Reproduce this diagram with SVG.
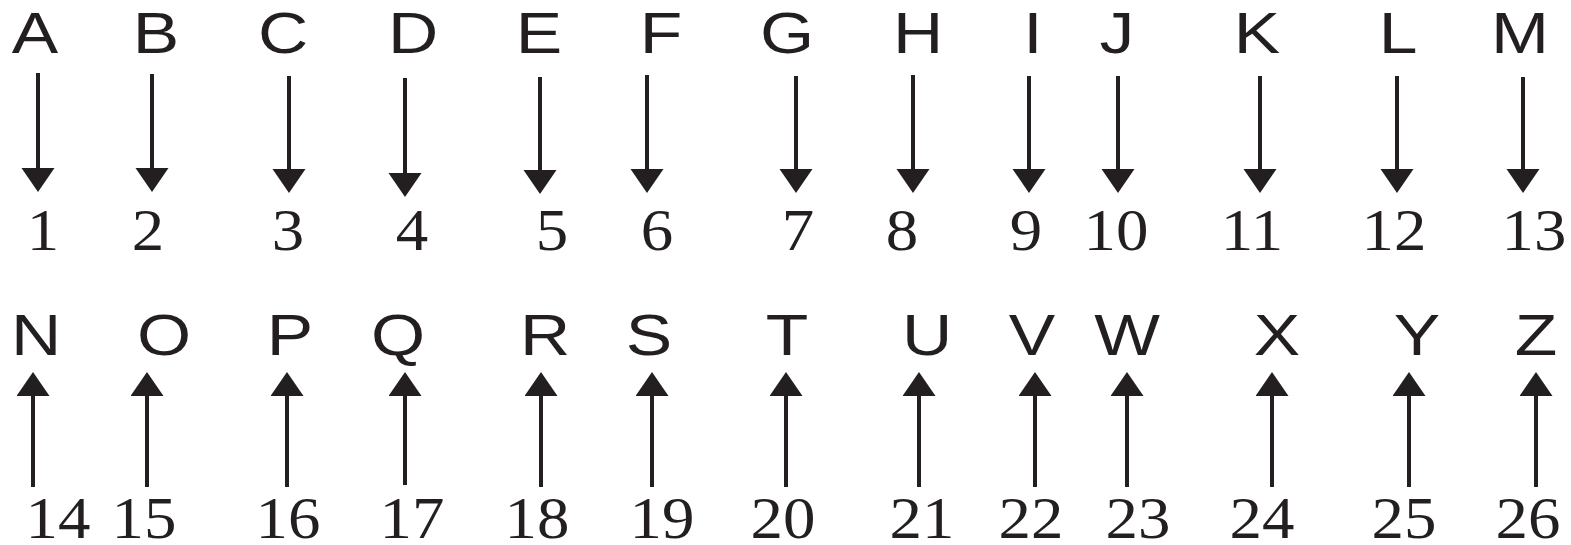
<svg xmlns="http://www.w3.org/2000/svg" width="1571" height="545" viewBox="0 0 1571 545">
<style>
.L{font-family:"Liberation Sans",Arial,sans-serif;font-size:58px;fill:#231f20;text-anchor:middle}
.N{font-family:"Liberation Serif","Times New Roman",serif;font-size:59px;fill:#231f20;text-anchor:middle}
.a{stroke:#231f20;stroke-width:4;fill:none;marker-end:url(#ah)}
</style>
<defs>
<marker id="ah" markerUnits="userSpaceOnUse" markerWidth="25" markerHeight="34" refX="0" refY="16.5" orient="auto" viewBox="0 0 25 34">
<path d="M0,0 L24,16.5 L0,33 Z" fill="#231f20"/>
</marker>
</defs>
<rect width="1571" height="545" fill="#ffffff"/>
<g id="letters-top">
<g id="A"><text class="L" transform="translate(35,53) scale(1.2,1)">A</text></g>
<g id="B"><text class="L" transform="translate(156,53) scale(1.2,1)">B</text></g>
<g id="C"><text class="L" transform="translate(283,53) scale(1.2,1)">C</text></g>
<g id="D"><text class="L" transform="translate(413,53) scale(1.2,1)">D</text></g>
<g id="E"><text class="L" transform="translate(539,53) scale(1.2,1)">E</text></g>
<g id="F"><text class="L" transform="translate(661,53) scale(1.2,1)">F</text></g>
<g id="G"><text class="L" transform="translate(787,53) scale(1.2,1)">G</text></g>
<g id="H"><text class="L" transform="translate(918,53) scale(1.2,1)">H</text></g>
<g id="I"><text class="L" transform="translate(1033,53) scale(1.2,1)">I</text></g>
<g id="J"><text class="L" transform="translate(1117,53) scale(1.2,1)">J</text></g>
<g id="K"><text class="L" transform="translate(1257,53) scale(1.2,1)">K</text></g>
<g id="L"><text class="L" transform="translate(1398,53) scale(1.2,1)">L</text></g>
<g id="M"><text class="L" transform="translate(1520,53) scale(1.2,1)">M</text></g>
</g>
<g id="numbers-top">
<g id="n1"><text class="N" transform="translate(43,250) scale(1.1,1)">1</text></g>
<g id="n2"><text class="N" transform="translate(148,250) scale(1.1,1)">2</text></g>
<g id="n3"><text class="N" transform="translate(288,250) scale(1.1,1)">3</text></g>
<g id="n4"><text class="N" transform="translate(412,250) scale(1.1,1)">4</text></g>
<g id="n5"><text class="N" transform="translate(552,250) scale(1.1,1)">5</text></g>
<g id="n6"><text class="N" transform="translate(657,250) scale(1.1,1)">6</text></g>
<g id="n7"><text class="N" transform="translate(798,250) scale(1.1,1)">7</text></g>
<g id="n8"><text class="N" transform="translate(902,250) scale(1.1,1)">8</text></g>
<g id="n9"><text class="N" transform="translate(1026,250) scale(1.1,1)">9</text></g>
<g id="n10"><text class="N" transform="translate(1116,250) scale(1.1,1)">10</text></g>
<g id="n11"><text class="N" transform="translate(1252,250) scale(1.1,1)">11</text></g>
<g id="n12"><text class="N" transform="translate(1394,250) scale(1.1,1)">12</text></g>
<g id="n13"><text class="N" transform="translate(1534,250) scale(1.1,1)">13</text></g>
</g>
<g id="letters-bottom">
<g id="N"><text class="L" transform="translate(36,355) scale(1.2,1)">N</text></g>
<g id="O"><text class="L" transform="translate(164,355) scale(1.2,1)">O</text></g>
<g id="P"><text class="L" transform="translate(290,355) scale(1.2,1)">P</text></g>
<g id="Q"><text class="L" transform="translate(398,355) scale(1.2,1)">Q</text></g>
<g id="R"><text class="L" transform="translate(545,355) scale(1.2,1)">R</text></g>
<g id="S"><text class="L" transform="translate(649,355) scale(1.2,1)">S</text></g>
<g id="T"><text class="L" transform="translate(787,355) scale(1.2,1)">T</text></g>
<g id="U"><text class="L" transform="translate(927,355) scale(1.2,1)">U</text></g>
<g id="V"><text class="L" transform="translate(1032,355) scale(1.2,1)">V</text></g>
<g id="W"><text class="L" transform="translate(1127,355) scale(1.2,1)">W</text></g>
<g id="X"><text class="L" transform="translate(1277,355) scale(1.2,1)">X</text></g>
<g id="Y"><text class="L" transform="translate(1417,355) scale(1.2,1)">Y</text></g>
<g id="Z"><text class="L" transform="translate(1536,355) scale(1.2,1)">Z</text></g>
</g>
<g id="numbers-bottom">
<g id="n14"><text class="N" transform="translate(58,538) scale(1.1,1)">14</text></g>
<g id="n15"><text class="N" transform="translate(144,538) scale(1.1,1)">15</text></g>
<g id="n16"><text class="N" transform="translate(288,538) scale(1.1,1)">16</text></g>
<g id="n17"><text class="N" transform="translate(412,538) scale(1.1,1)">17</text></g>
<g id="n18"><text class="N" transform="translate(537,538) scale(1.1,1)">18</text></g>
<g id="n19"><text class="N" transform="translate(662,538) scale(1.1,1)">19</text></g>
<g id="n20"><text class="N" transform="translate(783,538) scale(1.1,1)">20</text></g>
<g id="n21"><text class="N" transform="translate(922,538) scale(1.1,1)">21</text></g>
<g id="n22"><text class="N" transform="translate(1031,538) scale(1.1,1)">22</text></g>
<g id="n23"><text class="N" transform="translate(1138,538) scale(1.1,1)">23</text></g>
<g id="n24"><text class="N" transform="translate(1262,538) scale(1.1,1)">24</text></g>
<g id="n25"><text class="N" transform="translate(1404,538) scale(1.1,1)">25</text></g>
<g id="n26"><text class="N" transform="translate(1528,538) scale(1.1,1)">26</text></g>
</g>
<g id="connectors">
<path class="a" d="M38,73 V168"/>
<path class="a" d="M152,74 V168"/>
<path class="a" d="M289,76 V169"/>
<path class="a" d="M405,78 V173"/>
<path class="a" d="M540,77 V170"/>
<path class="a" d="M647,75 V169"/>
<path class="a" d="M796,76 V169"/>
<path class="a" d="M913,75 V169"/>
<path class="a" d="M1029,76 V169"/>
<path class="a" d="M1118,76 V169"/>
<path class="a" d="M1260,76 V169"/>
<path class="a" d="M1397,76 V169"/>
<path class="a" d="M1523,77 V169"/>
<path class="a" d="M33,487 V396"/>
<path class="a" d="M147,487 V396"/>
<path class="a" d="M287,487 V396"/>
<path class="a" d="M405,485 V396"/>
<path class="a" d="M541,487 V396"/>
<path class="a" d="M652,487 V396"/>
<path class="a" d="M786,487 V396"/>
<path class="a" d="M919,487 V396"/>
<path class="a" d="M1035,487 V396"/>
<path class="a" d="M1127,487 V396"/>
<path class="a" d="M1272,487 V396"/>
<path class="a" d="M1409,487 V396"/>
<path class="a" d="M1536,487 V396"/>
</g>
</svg>
